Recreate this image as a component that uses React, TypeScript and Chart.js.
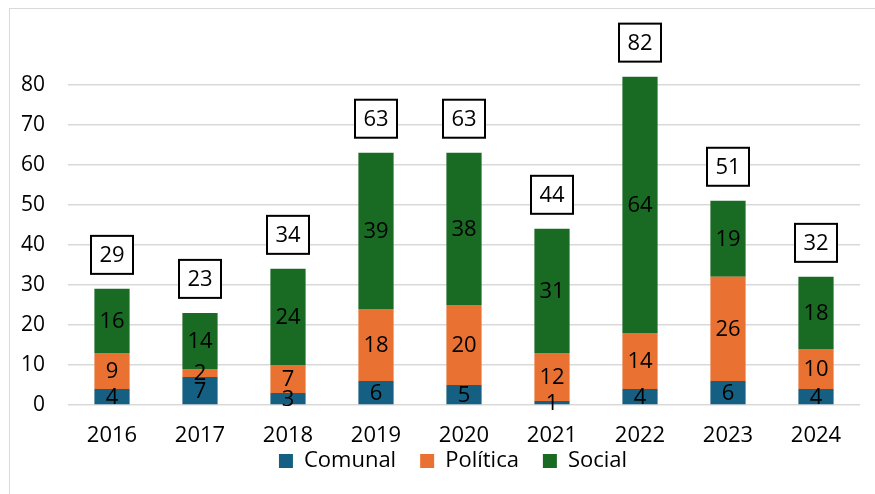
import React, { useEffect, useRef } from "react";
import { Chart, registerables } from "chart.js";

Chart.register(...registerables);

const categories = ["2016", "2017", "2018", "2019", "2020", "2021", "2022", "2023", "2024"];
const comunal = [4, 7, 3, 6, 5, 1, 4, 6, 4];
const politica = [9, 2, 7, 18, 20, 12, 14, 26, 10];
const social = [16, 14, 24, 39, 38, 31, 64, 19, 18];
const totals = [29, 23, 34, 63, 63, 44, 82, 51, 32];
const yTicks = [0, 10, 20, 30, 40, 50, 60, 70, 80];

const FONT = "'Open Sans', 'DejaVu Sans', sans-serif";

const labelsPlugin = {
  id: "segLabels",
  afterLayout(chart: any) {
    const lg = chart.legend;
    if (lg) {
      lg.left += 18;
      lg.right += 18;
      lg.top -= 23;
      lg.bottom -= 23;
    }
  },
  afterDatasetsDraw(chart: any) {
    const ctx = chart.ctx;
    ctx.save();
    ctx.font = `22px ${FONT}`;
    ctx.fillStyle = "#000";
    ctx.textAlign = "center";
    ctx.textBaseline = "middle";
    chart.data.datasets.forEach((ds: any, di: number) => {
      const meta = chart.getDatasetMeta(di);
      meta.data.forEach((el: any, i: number) => {
        const v = ds.data[i];
        const cy = (el.y + el.base) / 2;
        ctx.fillText(String(v), el.x, cy + 1);
      });
    });
    const last = chart.getDatasetMeta(chart.data.datasets.length - 1);
    last.data.forEach((el: any, i: number) => {
      const w = 42;
      const h = 38;
      const bottom = el.y - 15;
      const top = bottom - h;
      ctx.fillStyle = "#fff";
      ctx.fillRect(el.x - w / 2, top, w, h);
      ctx.strokeStyle = "#000";
      ctx.lineWidth = 2;
      ctx.strokeRect(el.x - w / 2, top, w, h);
      ctx.fillStyle = "#000";
      ctx.fillText(String(totals[i]), el.x, top + h / 2 + 1);
    });
    ctx.restore();
  },
};

export default function App() {
  const ref = useRef<HTMLCanvasElement | null>(null);

  useEffect(() => {
    const canvas = ref.current;
    if (!canvas) return;
    const chart = new Chart(canvas, {
      type: "bar",
      data: {
        labels: categories,
        datasets: [
          { label: "Comunal", data: comunal, backgroundColor: "#156082" },
          { label: "Política", data: politica, backgroundColor: "#E97132" },
          { label: "Social", data: social, backgroundColor: "#196B24" },
        ],
      },
      options: {
        animation: false,
        responsive: true,
        maintainAspectRatio: false,
        layout: { padding: { left: 0, right: 15, top: 32.6, bottom: 0 } },
        datasets: { bar: { barPercentage: 0.4, categoryPercentage: 1 } },
        plugins: {
          legend: {
            position: "bottom",
            maxHeight: 44,
            labels: {
              boxWidth: 14,
              boxHeight: 14,
              padding: 24,
              color: "#000",
              font: { family: FONT, size: 22 },
            },
          },
          tooltip: { enabled: false },
        },
        scales: {
          x: {
            stacked: true,
            grid: { display: false, drawTicks: false },
            border: { display: false },
            ticks: { color: "#000", font: { family: FONT, size: 22 }, padding: 18 },
            afterFit(scale: any) {
              scale.height = 44;
            },
          },
          y: {
            stacked: true,
            min: 0,
            max: 90,
            grid: { color: "#d9d9d9", lineWidth: 1.5, drawTicks: false },
            border: { display: false },
            ticks: { stepSize: 10, color: "#000", font: { family: FONT, size: 21 }, padding: 23 },
            afterBuildTicks(scale: any) {
              scale.ticks = yTicks.map((v) => ({ value: v }));
            },
            afterFit(scale: any) {
              scale.width = 58;
            },
          },
        },
      },
      plugins: [labelsPlugin],
    });
    return () => chart.destroy();
  }, []);

  return (
    <div
      style={{
        position: "absolute",
        left: 9,
        top: 8,
        width: 866,
        height: 486,
        boxSizing: "border-box",
        borderTop: "1px solid #d9d9d9",
        borderLeft: "1px solid #d9d9d9",
      }}
    >
      <div style={{ position: "relative", width: 865, height: 484 }}>
        <canvas ref={ref} />
      </div>
    </div>
  );
}
